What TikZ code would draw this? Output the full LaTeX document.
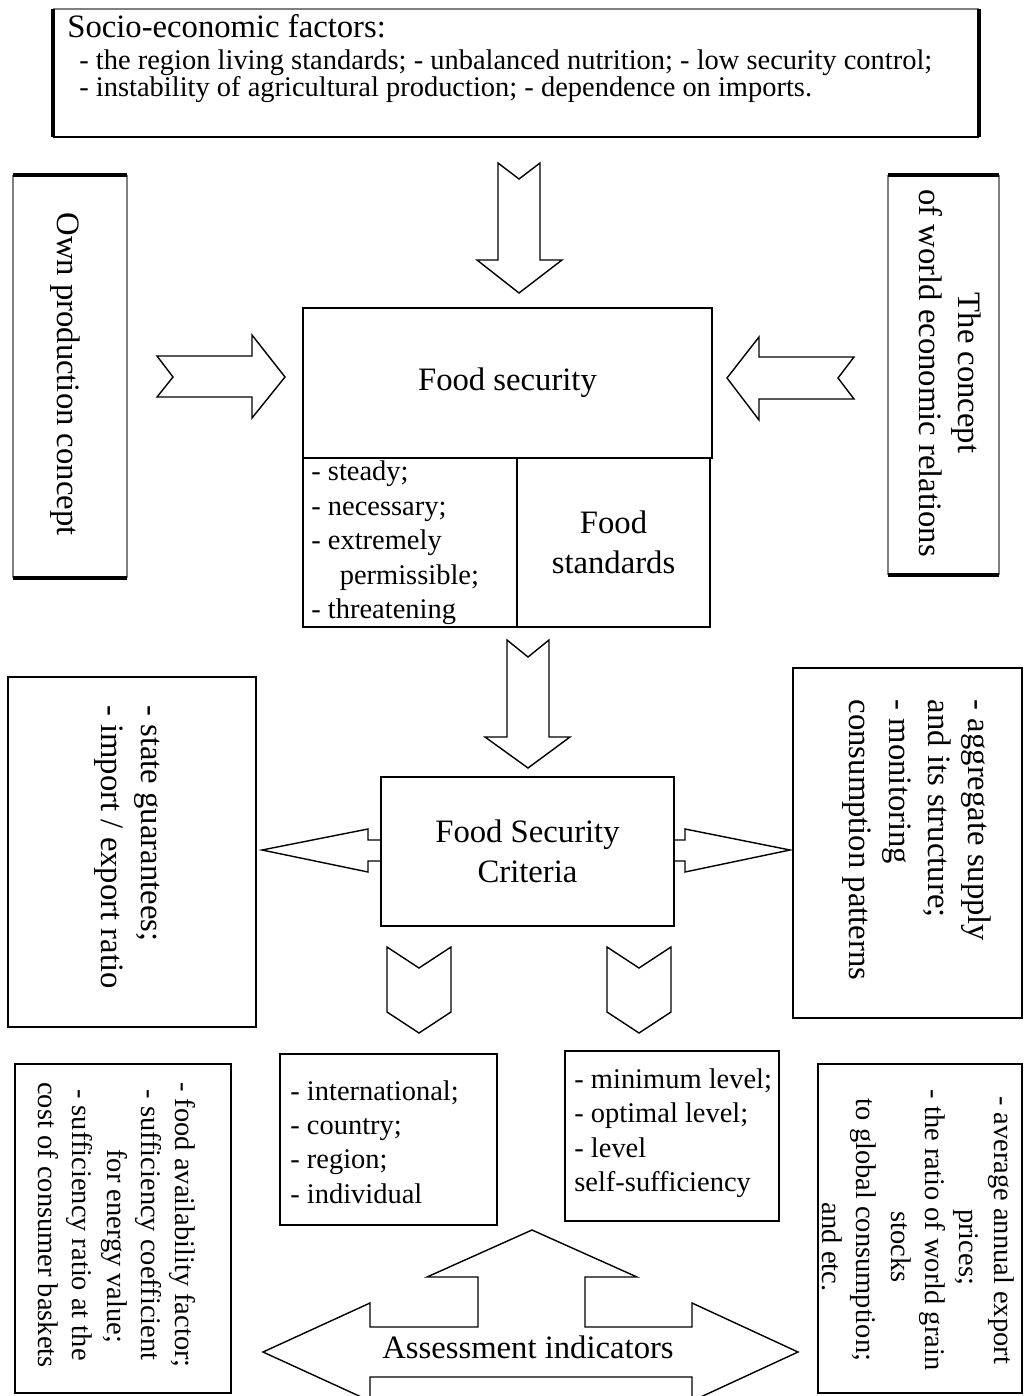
\documentclass[tikz,border=0pt]{standalone}
\usepackage{fontspec}
\setmainfont{Liberation Serif}
\tikzset{
    box/.style={draw, line width=0.8pt, inner sep=0pt, outer sep=0pt},
    plain/.style={inner sep=0pt, outer sep=0pt},
    bigtext/.style={font=\fontsize{18.6}{22.5}\selectfont, inner sep=0pt},
    smalltext/.style={font=\fontsize{16.2}{19.6}\selectfont, inner sep=0pt},
    blockarrow/.style={draw, line width=0.8pt, line join=miter},
    heavy/.style={line width=2.4pt},
    faint/.style={line width=0.6pt, black!50}
}

\begin{document}
\begin{tikzpicture}[x=0.02cm, y=-0.02cm]
    \useasboundingbox (0,0) rectangle (1027,1396);

    % socio-economic factors
    \node[plain, minimum width=18.52cm, minimum height=2.56cm] (factors) at (516,73) {};
    \draw[faint] (factors.north west) -- (factors.north east);
    \draw[line width=0.8pt] (factors.south west) -- (factors.south east);
    \draw[heavy] (factors.north west) -- (factors.south west)
        (factors.north east) -- (factors.south east);
    \node[bigtext, anchor=base west] (factorshead) at (67,37) {Socio-economic factors:};
    \node[smalltext, anchor=base west] (factorsa) at (79,69) {- the region living standards; - unbalanced nutrition; - low security control;};
    \node[smalltext, anchor=base west] (factorsb) at (79,96) {- instability of agricultural production; - dependence on imports.};

    % the two concepts
    \node[plain, minimum width=2.28cm, minimum height=8.06cm] (ownprod) at (70,376.5) {};
    \draw[faint] (ownprod.north west) -- (ownprod.south west)
        (ownprod.north east) -- (ownprod.south east);
    \draw[heavy] (ownprod.north west) -- (ownprod.north east)
        (ownprod.south west) -- (ownprod.south east);
    \node[bigtext, rotate=-90] (ownprodtext) at (65,374) {Own production concept};

    \node[plain, minimum width=2.22cm, minimum height=8cm] (worldrel) at (943.5,375) {};
    \draw[faint] (worldrel.north west) -- (worldrel.south west)
        (worldrel.north east) -- (worldrel.south east);
    \draw[heavy] (worldrel.north west) -- (worldrel.north east)
        (worldrel.south west) -- (worldrel.south east);
    \node[bigtext, rotate=-90, align=center] (worldreltext) at (950,373) {The concept\\of world economic relations};

    % food security
    \node[box, bigtext, minimum width=8.18cm, minimum height=3cm] (foodsec) at (507.5,383) {Food security};
    \node[box, minimum width=4.28cm, minimum height=3.38cm] (levels) at (410,542.5) {};
    \node[box, bigtext, align=center, minimum width=3.86cm, minimum height=3.38cm] (standards) at (613.5,542.5) {Food\\standards};
    \node[smalltext, align=left, anchor=west] (levelstext) at (311,543) {- steady;\\- necessary;\\- extremely\\\hspace*{1em}permissible;\\- threatening};

    \draw[blockarrow] (498,163) -- (519,179) -- (540,163) -- (540,260) -- (562,260)
        -- (519,293) -- (477,260) -- (498,260) -- cycle;
    \draw[blockarrow] (157,356) -- (252,356) -- (252,335) -- (285,377) -- (252,418)
        -- (252,397) -- (157,397) -- (173,377) -- cycle;
    \draw[blockarrow] (727,378) -- (759,337) -- (759,357) -- (854,357) -- (838,378)
        -- (854,399) -- (759,399) -- (759,420) -- cycle;
    \draw[blockarrow] (507,640) -- (528,657) -- (549,640) -- (549,737) -- (570,737)
        -- (528,768) -- (485,737) -- (507,737) -- cycle;

    % criteria
    \node[box, bigtext, align=center, minimum width=5.86cm, minimum height=2.98cm] (criteria) at (527.5,851.5) {Food Security\\Criteria};
    \draw[blockarrow] (381,840) -- (368,840) -- (368,829) -- (262,850) -- (368,872)
        -- (368,861) -- (381,861);
    \draw[blockarrow] (674,840) -- (685,840) -- (685,829) -- (790,850) -- (685,872)
        -- (685,861) -- (674,861);

    \node[box, minimum width=4.96cm, minimum height=7cm] (guarantees) at (132,852) {};
    \node[bigtext, rotate=-90, align=left] (guaranteestext) at (127,847) {- state guarantees;\\- import / export ratio};
    \node[box, minimum width=4.58cm, minimum height=7cm] (supply) at (907.5,843) {};
    \node[bigtext, rotate=-90, align=left] (supplytext) at (917,840) {- aggregate supply\\and its structure;\\- monitoring\\consumption patterns};

    \draw[blockarrow] (387,947) -- (419,968) -- (451,947) -- (451,1012) -- (419,1033)
        -- (387,1012) -- cycle;
    \draw[blockarrow] (607,947) -- (639,968) -- (671,947) -- (671,1012) -- (639,1033)
        -- (607,1012) -- cycle;

    % indicators
    \node[box, minimum width=4.34cm, minimum height=3.42cm] (scales) at (388.5,1139.5) {};
    \node[smalltext, align=left, anchor=west] (scalestext) at (290,1142) {- international;\\- country;\\- region;\\- individual};
    \node[box, minimum width=4.28cm, minimum height=3.4cm] (thresholds) at (672,1136) {};
    \node[smalltext, align=left, anchor=west] (thresholdstext) at (574,1133) {- minimum level;\\- optimal level;\\- level\\self-sufficiency};

    \node[box, minimum width=4.32cm, minimum height=6.58cm] (availability) at (123,1228.5) {};
    \node[smalltext, rotate=-90, align=center] (availabilitytext) at (117,1225) {- food availability factor;\\- sufficiency coefficient\\\hspace*{1.5em}for energy value;\\- sufficiency ratio at the\\cost of consumer baskets};
    \node[box, minimum width=4.08cm, minimum height=6.58cm] (exports) at (920,1228.5) {};
    \node[smalltext, rotate=-90, align=center] (exportstext) at (918,1230) {- average annual export\\\hspace*{1.2em}prices;\\- the ratio of world grain\\\hspace*{1.2em}stocks\\to global consumption;\\\hspace*{1.2em}and etc.};

    \begin{scope}
        \clip (0,0) rectangle (1027,1396);
        \draw[blockarrow] (263,1352) -- (370,1303) -- (370,1327) -- (478,1327) -- (478,1277)
            -- (427,1277) -- (532,1230) -- (637,1277) -- (585,1277) -- (585,1327)
            -- (692,1327) -- (692,1303) -- (798,1352) -- (692,1401) -- (692,1377)
            -- (370,1377) -- (370,1401) -- cycle;
    \end{scope}
    \node[bigtext, anchor=base] (assessment) at (528,1358) {Assessment indicators};
\end{tikzpicture}
\end{document}
